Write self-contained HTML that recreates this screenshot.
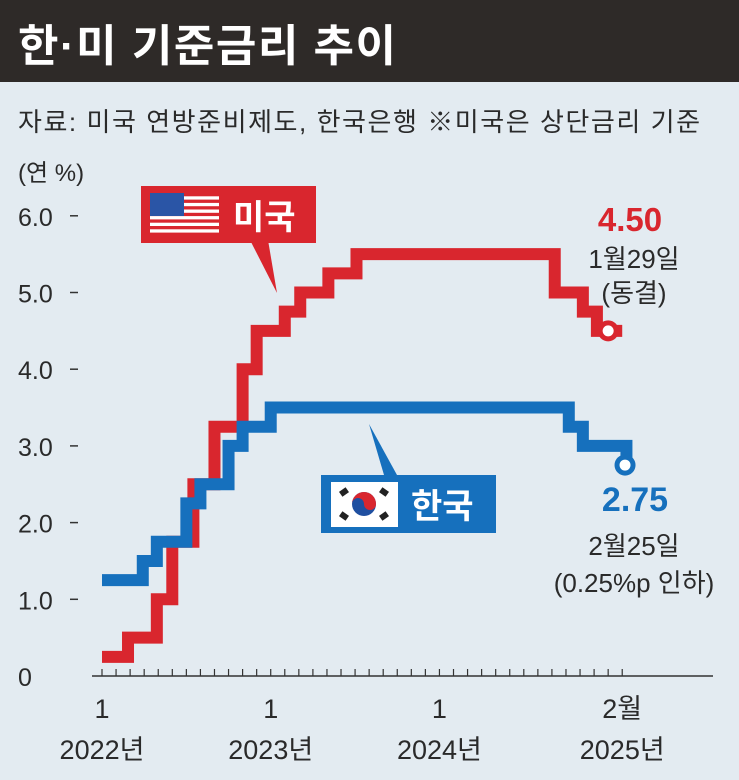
<!DOCTYPE html>
<html><head><meta charset="utf-8"><style>
html,body{margin:0;padding:0;background:#e3ebf1;}
svg{display:block;font-family:"Liberation Sans","Noto Sans CJK KR",sans-serif;}
</style></head><body>
<svg width="739" height="780" viewBox="0 0 739 780">
<rect x="0" y="0" width="739" height="780" fill="#e3ebf1"/>
<rect x="0" y="0" width="739" height="82" fill="#2e2a28"/>
<text x="18" y="61" font-size="44" font-weight="bold" fill="#fff" textLength="378">한·미 기준금리 추이</text>
<text x="18" y="131" font-size="26" fill="#2a2a2a" textLength="682">자료: 미국 연방준비제도, 한국은행   ※미국은 상단금리 기준</text>
<text x="18" y="181" font-size="24" fill="#2a2a2a">(연 %)</text>
<g id="yaxis"></g>
<g id="xaxis"></g>
<g id="series"></g>

<g>
<polygon points="250,240 277,293 268,240" fill="#d9262e"/>
<rect x="141" y="186" width="175" height="57" fill="#d9262e"/>
<g>
<rect x="150" y="193" width="69" height="43" fill="#fff"/>
<g fill="#d9262e">
<rect x="150" y="193" width="69" height="3.3"/><rect x="150" y="199.6" width="69" height="3.3"/><rect x="150" y="206.2" width="69" height="3.3"/><rect x="150" y="212.8" width="69" height="3.3"/><rect x="150" y="219.4" width="69" height="3.3"/><rect x="150" y="226" width="69" height="3.3"/><rect x="150" y="232.6" width="69" height="3.4"/>
</g>
<rect x="150" y="193" width="34" height="23" fill="#2a55a6"/>
</g>
<text x="233" y="229" font-size="34" font-weight="bold" fill="#fff">미국</text>
</g>

<g>
<polygon points="369,424 384,475 397,475" fill="#1670bd"/>
<rect x="321" y="475" width="175" height="58" fill="#1670bd"/>
<rect x="331" y="482" width="67" height="45" fill="#fff"/>
<circle cx="364" cy="504" r="12" fill="#1f4fa0"/>
<path d="M352,504 A12,12 0 0 1 376,504 A6,6 0 0 1 364,504 A6,6 0 0 0 352,504Z" fill="#d9262e"/>
<g fill="#222"><rect x="340" y="489" width="8" height="6" transform="rotate(-35 344 492)"/><rect x="380" y="489" width="8" height="6" transform="rotate(35 384 492)"/><rect x="340" y="513" width="8" height="6" transform="rotate(35 344 516)"/><rect x="380" y="513" width="8" height="6" transform="rotate(-35 384 516)"/></g>
<text x="411" y="518" font-size="34" font-weight="bold" fill="#fff">한국</text>
</g>

<text x="630" y="231" font-size="33" font-weight="bold" fill="#d9262e" text-anchor="middle">4.50</text>
<text x="634" y="268" font-size="26" fill="#2a2a2a" text-anchor="middle">1월29일</text>
<text x="634" y="302" font-size="26" fill="#2a2a2a" text-anchor="middle">(동결)</text>
<text x="635" y="511" font-size="34" font-weight="bold" fill="#1670bd" text-anchor="middle">2.75</text>
<text x="634" y="555" font-size="26" fill="#2a2a2a" text-anchor="middle">2월25일</text>
<text x="634" y="592" font-size="26" fill="#2a2a2a" text-anchor="middle">(0.25%p 인하)</text>
</svg>
<script>
const yTicks=[0,1,2,3,4,5,6];
const yTickLabels=["0","1.0","2.0","3.0","4.0","5.0","6.0"];
const xTickMonths=[0,12,24,37];
const xTickTop=["1","1","1","2월"];
const xTickBottom=["2022년","2023년","2024년","2025년"];
// step change times (months since Jan 2022) and values
const usMonths=[0,1.85,3.9,5.0,6.5,8.0,10.0,11.0,13.0,14.1,16.1,18.1,32.2,34.2,35.2,37.0];
const usValues=[0.25,0.5,1.0,1.75,2.5,3.25,4.0,4.5,4.75,5.0,5.25,5.5,5.0,4.75,4.5,4.5];
const krMonths=[0,2.9,3.9,6.0,7.0,9.0,10.0,12.0,33.2,34.2,37.3];
const krValues=[1.25,1.5,1.75,2.25,2.5,3.0,3.25,3.5,3.25,3.0,2.75];
const usMarker=[36.0,4.5];
const krMarker=[37.2,2.75];

const NS="http://www.w3.org/2000/svg";
function xs(m){return 102+m*14.06;}
function ys(v){return 676-v*76.7;}
function mk(tag,attrs,parent){const e=document.createElementNS(NS,tag);for(const k in attrs)e.setAttribute(k,attrs[k]);parent.appendChild(e);return e;}
const ya=document.getElementById('yaxis'),xa=document.getElementById('xaxis'),sg=document.getElementById('series');
yTicks.forEach((v,i)=>{
 const t=mk('text',{x:18,y:ys(v)+10,'font-size':25,fill:'#2a2a2a'},ya);
 
 
 t.textContent=yTickLabels[i];
 if(v>0){const l=mk('line',{x1:70,x2:78,y1:ys(v),y2:ys(v),stroke:'#333','stroke-width':1.5},ya);
 
 }
});
const ax=mk('line',{x1:92,x2:713,y1:676,y2:676,stroke:'#333','stroke-width':1.5},xa);


for(let m=0;m<=37;m++){const l=mk('line',{x1:xs(m),x2:xs(m),y1:669,y2:676,stroke:'#333','stroke-width':1.2},xa);
 
 }
xTickMonths.forEach((m,i)=>{
 const a=mk('text',{x:xs(m),y:718,'font-size':27,fill:'#2a2a2a','text-anchor':'middle'},xa);
 
 
 a.textContent=xTickTop[i];
 const b=mk('text',{x:xs(m),y:759,'font-size':27,fill:'#2a2a2a','text-anchor':'middle'},xa);
 
 
 b.textContent=xTickBottom[i];
});
function stepPath(ms,vs){let d='M'+xs(ms[0])+','+ys(vs[0]);for(let i=1;i<ms.length;i++){d+=' H'+xs(ms[i])+' V'+ys(vs[i]);}return d;}
const us=mk('path',{d:stepPath(usMonths,usValues),fill:'none',stroke:'#d9262e','stroke-width':12,'stroke-linejoin':'miter'},sg);


const kr=mk('path',{d:stepPath(krMonths,krValues),fill:'none',stroke:'#1670bd','stroke-width':12,'stroke-linejoin':'miter'},sg);


const um=mk('circle',{cx:xs(usMarker[0]),cy:ys(usMarker[1]),r:8,fill:'#fff',stroke:'#d9262e','stroke-width':5},sg);


const km=mk('circle',{cx:xs(krMarker[0]),cy:ys(krMarker[1]),r:8,fill:'#fff',stroke:'#1670bd','stroke-width':5},sg);


</script>
</body></html>
